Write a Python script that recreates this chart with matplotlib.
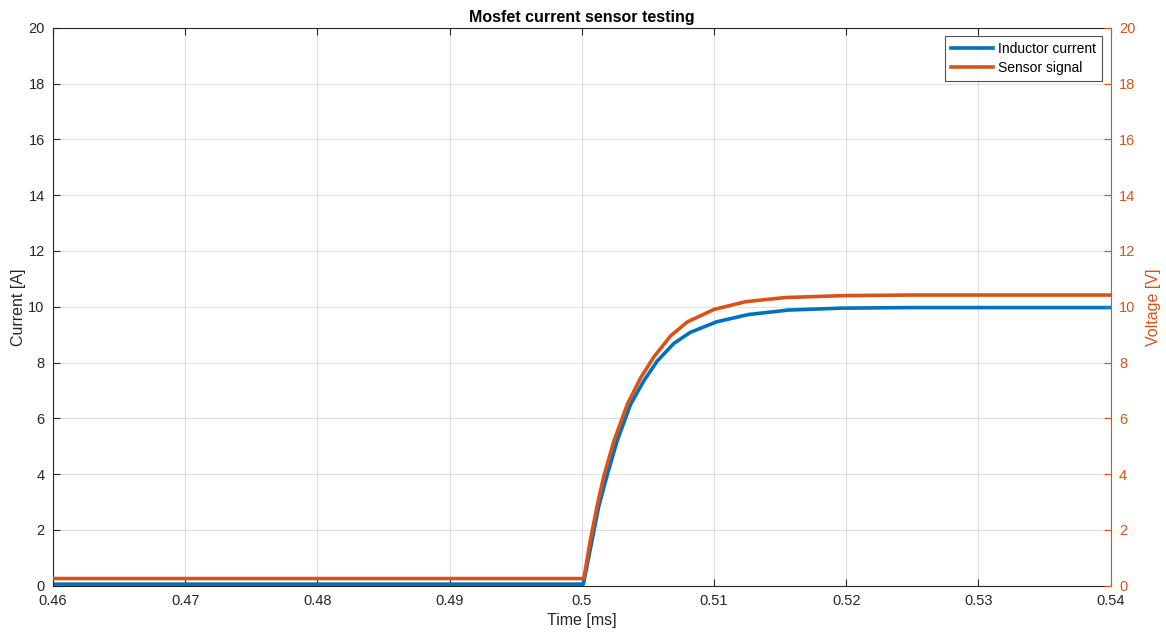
import matplotlib
matplotlib.use("Agg")
import matplotlib.pyplot as plt
from matplotlib.ticker import FuncFormatter, MultipleLocator

plt.rcParams['font.family'] = ['Liberation Sans', 'DejaVu Sans']

# Inductor current [A] versus time [ms]
t_current = [0.46, 0.50012, 0.50078, 0.50128, 0.50191, 0.50268, 0.50369, 0.50470,
             0.50570, 0.50695, 0.50820, 0.51020, 0.51260, 0.51560, 0.51960,
             0.525, 0.54]
current = [0.05, 0.05, 1.64, 2.84, 3.95, 5.20, 6.50, 7.35,
           8.05, 8.68, 9.08, 9.46, 9.72, 9.88, 9.95,
           9.97, 9.97]

# Sensor output voltage [V] versus time [ms]
t_sensor = [0.46, 0.50015, 0.50065, 0.50115, 0.50166, 0.50244, 0.50344, 0.50445,
            0.50545, 0.50671, 0.50796, 0.50998, 0.51237, 0.51538, 0.51991,
            0.525, 0.54]
sensor = [0.25, 0.25, 1.64, 2.84, 3.92, 5.20, 6.50, 7.45,
          8.20, 8.95, 9.45, 9.90, 10.18, 10.33, 10.40,
          10.42, 10.42]

BLUE = '#0072BD'
ORANGE = '#D95319'
AXIS_GRAY = '#262626'

fig = plt.figure(figsize=(11.66, 6.33), dpi=100)
ax = fig.add_axes([0.0455, 0.075, 0.907, 0.8808])
ax2 = ax.twinx()

l1, = ax.plot(t_current, current, color=BLUE, lw=2.6, label='Inductor current')
l2, = ax2.plot(t_sensor, sensor, color=ORANGE, lw=2.6, label='Sensor signal')

ax.set_xlim(0.46, 0.54)
ax.set_ylim(0, 20)
ax2.set_ylim(0, 20)
ax.xaxis.set_major_locator(MultipleLocator(0.01))
ax.yaxis.set_major_locator(MultipleLocator(2))
ax2.yaxis.set_major_locator(MultipleLocator(2))
ax.xaxis.set_major_formatter(FuncFormatter(lambda v, p: f'{v:.2f}'.rstrip('0').rstrip('.')))

ax.grid(True, color='#000000', alpha=0.12, lw=0.8)
ax.set_axisbelow(True)

ax.tick_params(axis='x', direction='in', top=True, colors=AXIS_GRAY, labelsize=10.5,
               length=5, width=0.8, pad=6)
ax.tick_params(axis='y', direction='in', colors=AXIS_GRAY, labelsize=10.5,
               length=5, width=0.8, pad=6)
ax2.tick_params(axis='y', direction='in', colors=ORANGE, labelsize=10.5,
                length=5, width=0.8, pad=6)

for s in ['left', 'bottom', 'top']:
    ax.spines[s].set_color(AXIS_GRAY)
    ax.spines[s].set_linewidth(0.8)
ax2.spines['right'].set_color(ORANGE)
ax2.spines['right'].set_linewidth(0.8)
for s in ['left', 'bottom', 'top']:
    ax2.spines[s].set_visible(False)
ax.spines['right'].set_visible(False)

ax.set_xlabel('Time [ms]', fontsize=11.5, color=AXIS_GRAY, labelpad=4)
ax.set_ylabel('Current [A]', fontsize=11.5, color=AXIS_GRAY, labelpad=2)
ax2.set_ylabel('Voltage [V]', fontsize=11.5, color=ORANGE, labelpad=8)
ax.set_title('Mosfet current sensor testing', fontsize=11.5, fontweight='bold', pad=4)

leg = ax2.legend(handles=[l1, l2], loc='upper right', bbox_to_anchor=(0.9915, 0.985),
                 fontsize=10, frameon=True, fancybox=False, handlelength=3.0,
                 borderpad=0.4, labelspacing=0.38, handletextpad=0.4, borderaxespad=0)
leg.get_frame().set_edgecolor('#262626')
leg.get_frame().set_linewidth(0.8)

fig.savefig('out.png', dpi=100)
